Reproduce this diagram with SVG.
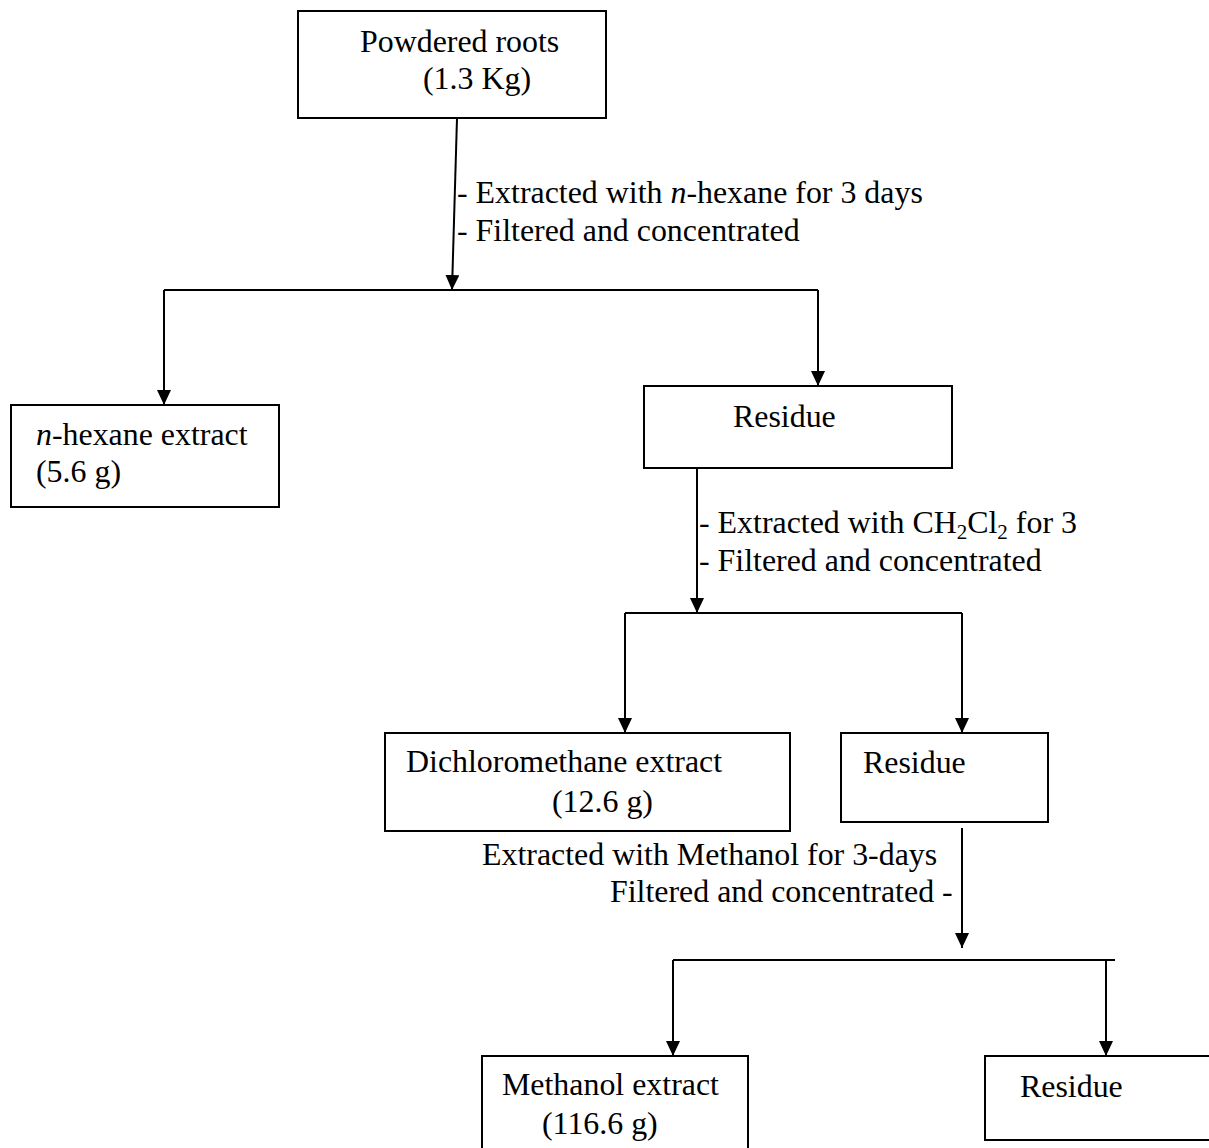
<svg xmlns="http://www.w3.org/2000/svg" width="1209" height="1148" viewBox="0 0 1209 1148">
<defs>
<style>
.box{fill:#fff;stroke:#000;stroke-width:2}
.ln{fill:none;stroke:#000;stroke-width:2}
.ar{fill:none;stroke:#000;stroke-width:2;marker-end:url(#ah)}
text{font-family:"Liberation Serif","Times New Roman",serif;font-size:31.9px;fill:#000}
.it{font-style:italic}
.sub{font-size:21px}
</style>
<marker id="ah" markerUnits="userSpaceOnUse" markerWidth="15" markerHeight="14" refX="15" refY="7" orient="auto">
<path d="M0,0 L15,7 L0,14 z" fill="#000"/>
</marker>
</defs>
<rect width="1209" height="1148" fill="#fff"/>
<g id="connectors">
<path class="ar" d="M457,118 L452,290"/>
<path class="ln" d="M164,290 L818,290"/>
<path class="ar" d="M164,290 L164,405"/>
<path class="ar" d="M818,290 L818,386"/>
<path class="ar" d="M697,468 L697,613"/>
<path class="ln" d="M625,613 L962,613"/>
<path class="ar" d="M625,613 L625,733"/>
<path class="ar" d="M962,613 L962,733"/>
<path class="ar" d="M962,828 L962,948"/>
<path class="ln" d="M673,960 L1115,960"/>
<path class="ar" d="M673,960 L673,1056"/>
<path class="ar" d="M1106,960 L1106,1056"/>
<text x="457" y="203">- Extracted with <tspan class="it">n</tspan>-hexane for 3 days</text>
<text x="457" y="241">- Filtered and concentrated</text>
<text x="699" y="533">- Extracted with CH<tspan class="sub" dy="6">2</tspan><tspan dy="-6">Cl</tspan><tspan class="sub" dy="6">2</tspan><tspan dy="-6"> for 3</tspan></text>
<text x="699" y="571">- Filtered and concentrated</text>
<text x="482" y="865">Extracted with Methanol for 3-days</text>
<text x="610" y="902">Filtered and concentrated -</text>
</g>
<g id="node-powdered-roots">
<rect class="box" x="298" y="11" width="308" height="107"/>
<text x="360" y="52">Powdered roots</text>
<text x="423" y="89">(1.3 Kg)</text>
</g>
<g id="node-hexane-extract">
<rect class="box" x="11" y="405" width="268" height="102"/>
<text x="36" y="445"><tspan class="it">n</tspan>-hexane extract</text>
<text x="36" y="482">(5.6 g)</text>
</g>
<g id="node-residue-1">
<rect class="box" x="644" y="386" width="308" height="82"/>
<text x="733" y="427">Residue</text>
</g>
<g id="node-dcm-extract">
<rect class="box" x="385" y="733" width="405" height="98"/>
<text x="406" y="772">Dichloromethane extract</text>
<text x="552" y="812">(12.6 g)</text>
</g>
<g id="node-residue-2">
<rect class="box" x="841" y="733" width="207" height="89"/>
<text x="863" y="773">Residue</text>
</g>
<g id="node-methanol-extract">
<rect class="box" x="482" y="1056" width="266" height="100"/>
<text x="502" y="1095">Methanol extract</text>
<text x="542" y="1134">(116.6 g)</text>
</g>
<g id="node-residue-3">
<rect class="box" x="985" y="1056" width="240" height="84"/>
<text x="1020" y="1097">Residue</text>
</g>
</svg>
